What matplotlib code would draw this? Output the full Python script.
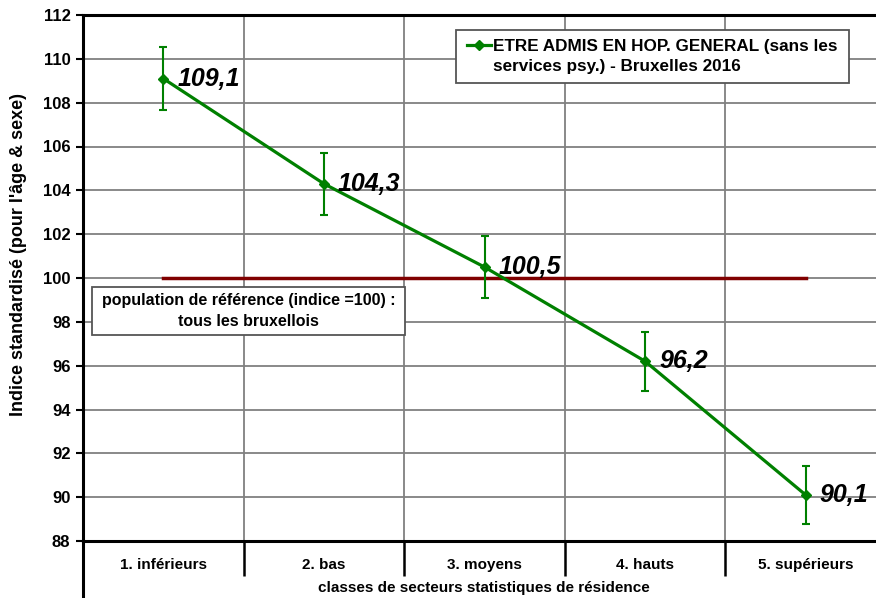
import matplotlib
matplotlib.use("Agg")
import matplotlib.pyplot as plt
from matplotlib.lines import Line2D
from matplotlib.patches import Rectangle

plt.rcParams['font.family'] = ['Liberation Sans', 'DejaVu Sans']

categories = ["1. inférieurs", "2. bas", "3. moyens", "4. hauts", "5. supérieurs"]
values = [109.1, 104.3, 100.5, 96.2, 90.1]
err_low = [1.44, 1.43, 1.4, 1.37, 1.33]
err_high = [1.44, 1.4, 1.4, 1.33, 1.33]
value_labels = ["109,1", "104,3", "100,5", "96,2", "90,1"]
reference_value = 100
series_name = "ETRE ADMIS EN HOP. GENERAL (sans les\nservices psy.) - Bruxelles 2016"
reference_text = "population de référence (indice =100) :\ntous les bruxellois"
yticks = list(range(88, 113, 2))

W, H = 876, 598
fig = plt.figure(figsize=(W / 100, H / 100), dpi=100)
fx = lambda px: px / W
fy = lambda py: 1 - py / H

left, right, top, bottom = 83, 886, 15, 541
ax = fig.add_axes([fx(left), fy(bottom), fx(right) - fx(left), fy(top) - fy(bottom)])

green = "#008000"
darkred = "#800000"

x = list(range(1, len(categories) + 1))
ax.set_xlim(0.5, len(categories) + 0.5)
ax.set_ylim(88, 112)

# grid
for yv in yticks:
    ax.axhline(yv, color="#808080", lw=1.3, zorder=0)
for xv in [1.5, 2.5, 3.5, 4.5]:
    ax.axvline(xv, color="#808080", lw=1.3, zorder=0)

# reference line
ax.plot([x[0], x[-1]], [reference_value, reference_value], color=darkred, lw=2.5, zorder=2)

# series
ax.errorbar(x, values, yerr=[err_low, err_high], color=green, lw=2.3, marker="D",
            markersize=5, capsize=3, elinewidth=1.5, capthick=1.5, zorder=3)

for xi, v, lab in zip(x, values, value_labels):
    ax.annotate(lab, (xi, v), xytext=(10, 0), textcoords="offset points",
                ha="left", va="center", fontsize=18, fontweight="bold",
                fontstyle="italic", color="black", zorder=4)

# axes styling
ax.spines["right"].set_visible(False)
for s in ["left", "top", "bottom"]:
    ax.spines[s].set_linewidth(2.2)
    ax.spines[s].set_color("black")

ax.set_yticks(yticks)
ax.set_yticklabels([str(t) for t in yticks], fontsize=12, fontweight="bold")
ax.tick_params(axis="y", length=5, width=1.5, pad=4)

ax.set_xticks(x)
ax.set_xticklabels(categories, fontsize=11, fontweight="bold")
ax.tick_params(axis="x", which="major", length=0, pad=12)
ax.set_xticks([1.5, 2.5, 3.5, 4.5], minor=True)
ax.tick_params(axis="x", which="minor", length=25, width=1.8, direction="out", color="black")

ax.set_xlabel("classes de secteurs statistiques de résidence", fontsize=11,
              fontweight="bold", va="center")
ax.xaxis.set_label_coords((484 - left) / (right - left), -(588 - bottom) / (bottom - top))
ax.set_ylabel("Indice standardisé (pour l'âge & sexe)", fontsize=13, fontweight="bold",
              va="center")
ax.yaxis.set_label_coords(-(left - 19) / (right - left), (bottom - 255) / (bottom - top))

# left border continues down to the bottom
fig.add_artist(Line2D([fx(left), fx(left)], [0, fy(bottom)], color="black", lw=2.2))

# legend box (manual)
lx0, ly0, lx1, ly1 = 456, 30, 849, 83
fig.add_artist(Rectangle((fx(lx0), fy(ly1)), fx(lx1) - fx(lx0), fy(ly0) - fy(ly1),
                         facecolor="white", edgecolor="#555555", lw=1.3, zorder=5))
fig.add_artist(Line2D([fx(467), fx(491)], [fy(45), fy(45)], color=green, lw=2.3, zorder=6))
fig.add_artist(Line2D([fx(479)], [fy(45)], color=green, marker="D", markersize=5, zorder=6))
fig.text(fx(493), fy(56.5), series_name, ha="left", va="center", fontsize=12.3,
         fontweight="bold", linespacing=1.45, zorder=7)

# reference box
rx0, ry0, rx1, ry1 = 92, 287, 405, 335
fig.add_artist(Rectangle((fx(rx0), fy(ry1)), fx(rx1) - fx(rx0), fy(ry0) - fy(ry1),
                         facecolor="white", edgecolor="#555555", lw=1.3, zorder=5))
fig.text(fx((rx0 + rx1) / 2), fy(311), reference_text, ha="center", va="center",
         fontsize=11.5, fontweight="bold", linespacing=1.45, zorder=7)

fig.savefig("out.png", dpi=100)
